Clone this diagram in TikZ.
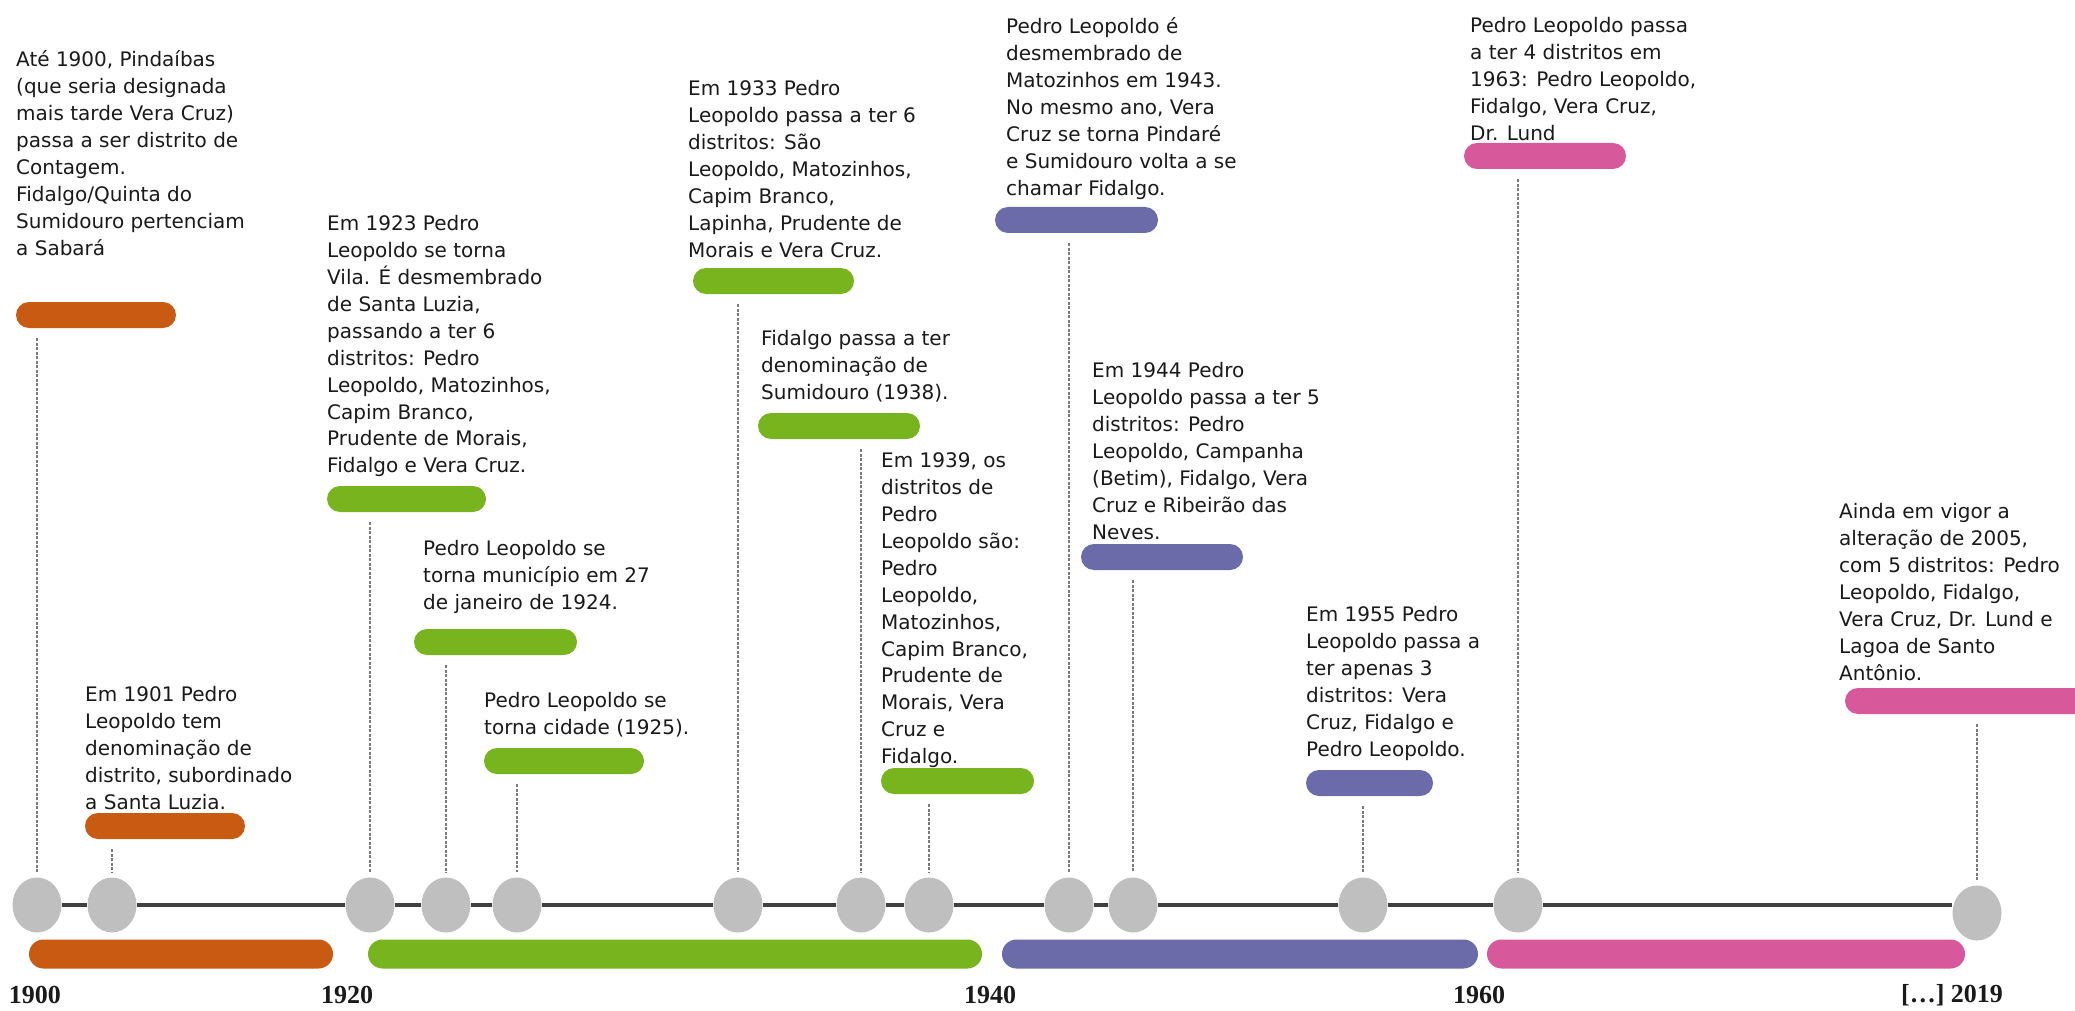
\documentclass[tikz,border=0pt]{standalone}
\usepackage{fontspec}
\setmainfont{DejaVu Sans}
\newfontfamily\yearfont{Liberation Serif}
\usetikzlibrary{shapes.geometric}

\definecolor{eraorange}{HTML}{C85A12}
\definecolor{eragreen}{HTML}{78B41E}
\definecolor{erapurple}{HTML}{6B6BAA}
\definecolor{erapink}{HTML}{D8599B}
\definecolor{dotgray}{HTML}{BFBFBF}
\definecolor{axisgray}{HTML}{404040}
\definecolor{linkgray}{HTML}{7A7A7A}
\definecolor{notetext}{HTML}{1A1A1A}

% fixes the height of the first line of each note
\newcommand\topline{\rule{0pt}{19.5pt}}

\begin{document}
\begin{tikzpicture}[x=1pt,y=-1pt,
  note/.style={anchor=north west, align=left, inner sep=0pt,
    font=\fontsize{20}{26.9}\selectfont, text=notetext},
  pill/.style={rectangle, rounded corners=13pt, minimum height=26pt,
    inner sep=0pt, minimum width=#1},
  era/.style={rectangle, rounded corners=14.5pt, minimum height=29pt,
    inner sep=0pt, minimum width=#1},
  dot/.style={ellipse, fill=dotgray, minimum width=49pt, minimum height=55pt, inner sep=0pt},
  link/.style={draw=linkgray, line width=1.2pt, dash pattern=on 3pt off 1.5pt,
    shorten <=10pt, shorten >=5pt},
  yearlbl/.style={font=\yearfont\bfseries\fontsize{26}{30}\selectfont, text=notetext, inner sep=0pt}
]
\fill[white] (0,0) rectangle (2075,1011);
\clip (0,0) rectangle (2075,1011);

% timeline dots
\node[dot] (c1)  at (37,905)   {};
\node[dot] (c2)  at (112,905)  {};
\node[dot] (c3)  at (370,905)  {};
\node[dot] (c4)  at (446,905)  {};
\node[dot] (c5)  at (517,905)  {};
\node[dot] (c6)  at (738,905)  {};
\node[dot] (c7)  at (861,905)  {};
\node[dot] (c8)  at (929,905)  {};
\node[dot] (c9)  at (1069,905) {};
\node[dot] (c10) at (1133,905) {};
\node[dot] (c11) at (1363,905) {};
\node[dot] (c12) at (1518,905) {};
\node[dot] (c13) at (1977,913) {};

% axis between the dots
\begin{scope}[draw=axisgray, line width=4pt]
\draw (c1) -- (c2);  \draw (c2) -- (c3);  \draw (c3) -- (c4);
\draw (c4) -- (c5);  \draw (c5) -- (c6);  \draw (c6) -- (c7);
\draw (c7) -- (c8);  \draw (c8) -- (c9);  \draw (c9) -- (c10);
\draw (c10) -- (c11); \draw (c11) -- (c12);
\draw (c12) -- (c12 -| c13.west);
\end{scope}

% period bars under the axis
\node[era=304pt, fill=eraorange] (p1) at (181,954)  {};
\node[era=614pt, fill=eragreen]  (p2) at (675,954)  {};
\node[era=476pt, fill=erapurple] (p3) at (1240,954) {};
\node[era=478pt, fill=erapink]   (p4) at (1726,954) {};

% decade labels
\node[yearlbl] (y1) at (35,995)   {1900};
\node[yearlbl] (y2) at (347,995)  {1920};
\node[yearlbl] (y3) at (990,995)  {1940};
\node[yearlbl] (y4) at (1479,995) {1960};
\node[yearlbl] (y5) at (1952,995) {[…] 2019};

% event bars
\node[pill=160pt, fill=eraorange] (e1)  at (96,315)    {};
\node[pill=160pt, fill=eraorange] (e2)  at (165,826)   {};
\node[pill=159pt, fill=eragreen]  (e3)  at (406.5,499) {};
\node[pill=163pt, fill=eragreen]  (e4)  at (495.5,642) {};
\node[pill=160pt, fill=eragreen]  (e5)  at (564,761)   {};
\node[pill=161pt, fill=eragreen]  (e6)  at (773.5,281) {};
\node[pill=162pt, fill=eragreen]  (e7)  at (839,426)   {};
\node[pill=153pt, fill=eragreen]  (e8)  at (957.5,781) {};
\node[pill=163pt, fill=erapurple] (e9)  at (1076.5,220) {};
\node[pill=162pt, fill=erapurple] (e10) at (1162,557)  {};
\node[pill=127pt, fill=erapurple] (e11) at (1369.5,783) {};
\node[pill=162pt, fill=erapink]   (e12) at (1545,156)  {};
\node[pill=250pt, fill=erapink]   (e13) at (1970,701)  {};

% dashed drop lines from each event to its dot
\foreach \i in {1,...,13}{
  \draw[link] (e\i.south -| c\i) -- (c\i.north);
}

% event notes
\node[note] (t1) at (16,47) {\topline Até 1900, Pindaíbas\\(que seria designada\\mais tarde Vera Cruz)\\passa a ser distrito de\\Contagem.\\Fidalgo/Quinta do\\Sumidouro pertenciam\\a Sabará};
\node[note] (t2) at (85,682) {\topline Em 1901 Pedro\\Leopoldo tem\\denominação de\\distrito, subordinado\\a Santa Luzia.};
\node[note] (t3) at (327,211) {\topline Em 1923 Pedro\\Leopoldo se torna\\Vila. É desmembrado\\de Santa Luzia,\\passando a ter 6\\distritos: Pedro\\Leopoldo, Matozinhos,\\Capim Branco,\\Prudente de Morais,\\Fidalgo e Vera Cruz.};
\node[note] (t4) at (423,536) {\topline Pedro Leopoldo se\\torna município em 27\\de janeiro de 1924.};
\node[note] (t5) at (484,688) {\topline Pedro Leopoldo se\\torna cidade (1925).};
\node[note] (t6) at (688,76) {\topline Em 1933 Pedro\\Leopoldo passa a ter 6\\distritos: São\\Leopoldo, Matozinhos,\\Capim Branco,\\Lapinha, Prudente de\\Morais e Vera Cruz.};
\node[note] (t7) at (761,326) {\topline Fidalgo passa a ter\\denominação de\\Sumidouro (1938).};
\node[note] (t8) at (881,448) {\topline Em 1939, os\\distritos de\\Pedro\\Leopoldo são:\\Pedro\\Leopoldo,\\Matozinhos,\\Capim Branco,\\Prudente de\\Morais, Vera\\Cruz e\\Fidalgo.};
\node[note] (t9) at (1006,14) {\topline Pedro Leopoldo é\\desmembrado de\\Matozinhos em 1943.\\No mesmo ano, Vera\\Cruz se torna Pindaré\\e Sumidouro volta a se\\chamar Fidalgo.};
\node[note] (t10) at (1092,358) {\topline Em 1944 Pedro\\Leopoldo passa a ter 5\\distritos: Pedro\\Leopoldo, Campanha\\(Betim), Fidalgo, Vera\\Cruz e Ribeirão das\\Neves.};
\node[note] (t11) at (1306,602) {\topline Em 1955 Pedro\\Leopoldo passa a\\ter apenas 3\\distritos: Vera\\Cruz, Fidalgo e\\Pedro Leopoldo.};
\node[note] (t12) at (1470,13) {\topline Pedro Leopoldo passa\\a ter 4 distritos em\\1963: Pedro Leopoldo,\\Fidalgo, Vera Cruz,\\Dr. Lund};
\node[note] (t13) at (1839,499) {\topline Ainda em vigor a\\alteração de 2005,\\com 5 distritos: Pedro\\Leopoldo, Fidalgo,\\Vera Cruz, Dr. Lund e\\Lagoa de Santo\\Antônio.};
\end{tikzpicture}
\end{document}
